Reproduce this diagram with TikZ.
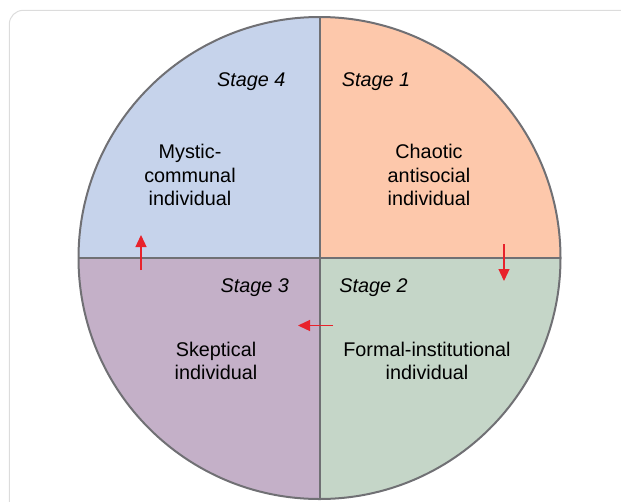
\documentclass[tikz,border=0pt]{standalone}
\usepackage{fontspec}
\setmainfont{Liberation Sans}
\usetikzlibrary{arrows.meta,calc}
\definecolor{qblue}{HTML}{C6D3EB}
\definecolor{qorange}{HTML}{FDC8AB}
\definecolor{qgreen}{HTML}{C5D6C8}
\definecolor{qpurple}{HTML}{C4B0C8}
\definecolor{qline}{HTML}{707074}
\definecolor{qframe}{HTML}{DCDCDC}
\definecolor{qred}{HTML}{E8222B}
\begin{document}
\begin{tikzpicture}[x=1pt,y=-1pt,
  lbl/.style={align=center,font=\fontsize{19.8}{23.3}\selectfont,text=black,inner sep=0pt},
  stagelbl/.style={font=\fontsize{19.8}{23}\selectfont\itshape,text=black,inner sep=0pt},
  redarrow/.style={draw=qred,line width=1.3pt,-{Triangle[length=12pt,width=11pt]}}]
\useasboundingbox (0,0) rectangle (621,501);
% frame
\draw[qframe,line width=1pt,rounded corners=14pt] (9.3,540) -- (9.3,10.3) -- (660,10.3);
% circle center
\coordinate (c) at (319.5,258);
\def\R{241}
\fill[qorange] (c) -- ++(0,-\R) arc[start angle=270,end angle=360,radius=\R] -- cycle;
\fill[qblue] (c) -- ++(0,-\R) arc[start angle=270,end angle=180,radius=\R] -- cycle;
\fill[qpurple] (c) -- ++(-\R,0) arc[start angle=180,end angle=90,radius=\R] -- cycle;
\fill[qgreen] (c) -- ++(\R,0) arc[start angle=0,end angle=90,radius=\R] -- cycle;
\draw[qline,line width=2pt] (c) circle[radius=\R];
\draw[qline,line width=2pt] ($(c)+(0,-\R)$) -- ($(c)+(0,\R)$);
\draw[qline,line width=2pt] ($(c)+(-\R,0)$) -- ($(c)+(\R,0)$);
% stage labels
\node[stagelbl] (s4) at (251.3,82) {Stage 4};
\node[stagelbl] (s1) at (376,82) {Stage 1};
\node[stagelbl] (s3) at (254.7,288) {Stage 3};
\node[stagelbl] (s2) at (373.5,288) {Stage 2};
% main labels
\node[lbl] (mys) at (190,175) {Mystic-\\communal\\individual};
\node[lbl] (cha) at (429,175) {Chaotic\\antisocial\\individual};
\node[lbl] (ske) at (216,361) {Skeptical\\individual};
\node[lbl] (for) at (427,361) {Formal-institutional\\individual};
% arrows
\coordinate (a1s) at (141,270); \coordinate (a1e) at (141,235);
\coordinate (a2s) at (504,244); \coordinate (a2e) at (504,281);
\coordinate (a3s) at (333,325.5); \coordinate (a3e) at (298,325.5);
\draw[redarrow] (a1s) -- (a1e);
\draw[redarrow] (a2s) -- (a2e);
\draw[redarrow] (a3s) -- (a3e);
\end{tikzpicture}
\end{document}
